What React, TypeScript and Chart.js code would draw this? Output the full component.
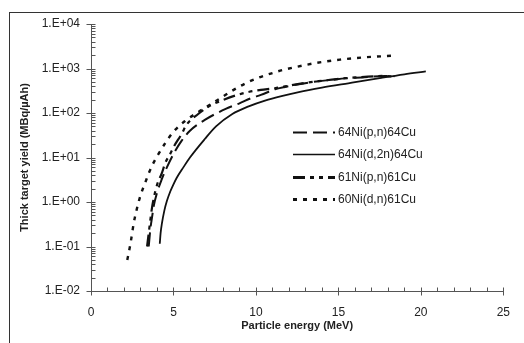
import { useEffect, useRef } from "react";
import { Chart, registerables } from "chart.js";

Chart.register(...registerables);

// ---- data ----
const seriesNames = ["64Ni(p,n)64Cu", "64Ni(d,2n)64Cu", "61Ni(p,n)61Cu", "60Ni(d,n)61Cu"];

const pn64Energy = [3.5, 3.6, 3.7, 3.8, 4.0, 4.3, 4.6, 5.0, 5.5, 6.0, 6.9, 8.2, 9.0, 9.7, 10.3, 11.15, 11.75, 12.8, 13.8, 14.6, 15.4, 16.4, 17.8, 18.4];
const pn64Yield = [0.1, 0.25, 0.45, 0.8, 1.6, 3.3, 6, 12, 24, 40, 70, 125, 165, 215, 255, 340, 385, 455, 520, 555, 600, 630, 675, 670];

const d2n64Energy = [4.17, 4.22, 4.3, 4.45, 4.6, 4.8, 5.0, 5.2, 5.6, 6.0, 6.9, 7.58, 8.57, 9.56, 10.55, 11.55, 12.6, 14.0, 15.6, 17.6, 19.0, 20.3];
const d2n64Yield = [0.115, 0.2, 0.33, 0.65, 1.05, 1.7, 2.5, 3.5, 6.0, 10, 26, 50, 95, 141, 190, 240, 295, 370, 465, 615, 740, 860];

const pn61Energy = [3.4, 3.5, 3.6, 3.7, 3.8, 4.0, 4.3, 4.5, 4.8, 5.0, 5.5, 5.8, 6.5, 7.2, 8.0, 8.8, 9.6, 10.3, 11.15, 11.75, 12.8, 13.8, 14.6, 15.4, 16.4, 17.8, 18.4];
const pn61Yield = [0.1, 0.2, 0.4, 0.75, 1.2, 2.4, 4.5, 7.5, 12, 17, 34, 55, 95, 145, 195, 250, 300, 330, 360, 395, 465, 520, 560, 605, 640, 680, 660];

const dn60Energy = [2.2, 2.4, 2.6, 2.8, 3.0, 3.3, 3.6, 4.0, 4.5, 5.0, 5.7, 6.5, 7.3, 8.0, 8.7, 9.4, 10.1, 11.0, 11.6, 13.0, 14.0, 15.1, 16.4, 17.3, 18.2, 18.5];
const dn60Yield = [0.05, 0.12, 0.35, 0.75, 1.4, 2.8, 5.4, 10.5, 21, 38, 66, 105, 160, 235, 340, 470, 610, 790, 920, 1200, 1400, 1580, 1760, 1850, 1930, 1950];

const xTickValues = [0, 5, 10, 15, 20, 25];
const yTickValues = [0.01, 0.1, 1, 10, 100, 1000, 10000];

const FONT = "'Liberation Sans', Arial, Helvetica, sans-serif";

function fmtExp(v: number): string {
  const e = Math.round(Math.log10(v));
  const s = e < 0 ? "-" : "+";
  const a = Math.abs(e);
  return "1.E" + s + (a < 10 ? "0" + a : String(a));
}

function pts(xs: number[], ys: number[]) {
  return xs.map((x, i) => ({ x, y: ys[i] }));
}

const axisPlugin = {
  id: "axisTicks",
  afterDraw(chart: any) {
    const { ctx, chartArea } = chart;
    const xs = chart.scales.x;
    const ys = chart.scales.y;
    ctx.save();
    ctx.strokeStyle = "#555";
    ctx.lineWidth = 1;
    const ax = Math.round(chartArea.left) + 0.5;
    const ay = Math.round(chartArea.bottom) + 0.5;
    ctx.beginPath();
    ctx.moveTo(ax, chartArea.top);
    ctx.lineTo(ax, ay);
    ctx.lineTo(Math.round(xs.getPixelForValue(25)) + 0.5, ay);
    for (let v = 0; v <= 25; v++) {
      const px = Math.round(xs.getPixelForValue(v)) + 0.5;
      if (v % 5 === 0) {
        ctx.moveTo(px, ay - 4);
        ctx.lineTo(px, ay + 4);
      } else {
        ctx.moveTo(px, ay - 4);
        ctx.lineTo(px, ay);
      }
    }
    for (let e = -2; e <= 4; e++) {
      const base = Math.pow(10, e);
      const py = Math.round(ys.getPixelForValue(base)) + 0.5;
      ctx.moveTo(ax - 5, py);
      ctx.lineTo(ax + 4, py);
      if (e < 4) {
        for (let m = 2; m <= 9; m++) {
          const my = Math.round(ys.getPixelForValue(base * m)) + 0.5;
          ctx.moveTo(ax, my);
          ctx.lineTo(ax + 4, my);
        }
      }
    }
    ctx.stroke();
    ctx.restore();
  },
};

const legendPlugin = {
  id: "inLegend",
  afterDraw(chart: any) {
    const { ctx, chartArea } = chart;
    const x0 = chartArea.left + 202;
    const y0 = chartArea.top + 108;
    const rowH = 22.4;
    ctx.save();
    chart.data.datasets.forEach((ds: any, i: number) => {
      const y = Math.round(y0 + i * rowH) + 0.5;
      ctx.beginPath();
      ctx.strokeStyle = ds.borderColor;
      ctx.lineWidth = ds.legendWidth;
      ctx.setLineDash(ds.borderDash || []);
      ctx.moveTo(x0, y);
      ctx.lineTo(x0 + 42, y);
      ctx.stroke();
      ctx.setLineDash([]);
      ctx.fillStyle = "#222";
      ctx.font = "12px " + FONT;
      ctx.textBaseline = "middle";
      ctx.textAlign = "left";
      ctx.fillText(ds.label, x0 + 45, y);
    });
    ctx.restore();
  },
};

export default function App() {
  const ref = useRef<HTMLCanvasElement | null>(null);

  useEffect(() => {
    if (!ref.current) return;
    const common = {
      pointRadius: 0,
      borderColor: "#111",
      fill: false,
      cubicInterpolationMode: "monotone" as const,
    };
    const chart = new Chart(ref.current, {
      type: "line",
      data: {
        datasets: [
          { ...common, label: seriesNames[0], data: pts(pn64Energy, pn64Yield), borderWidth: 2, borderDash: [14, 6], legendWidth: 2 } as any,
          { ...common, label: seriesNames[1], data: pts(d2n64Energy, d2n64Yield), borderWidth: 1.8, borderDash: [], legendWidth: 1.5 } as any,
          { ...common, label: seriesNames[2], data: pts(pn61Energy, pn61Yield), borderWidth: 2.2, borderDash: [12, 5, 4, 5, 4, 5], legendWidth: 3 } as any,
          { ...common, label: seriesNames[3], data: pts(dn60Energy, dn60Yield), borderWidth: 2.4, borderDash: [4, 6], legendWidth: 3 } as any,
        ],
      },
      options: {
        animation: false,
        responsive: false,
        maintainAspectRatio: false,
        layout: { padding: { left: 0, right: 14, top: 24, bottom: 0 } },
        plugins: {
          legend: { display: false },
          tooltip: { enabled: false },
        },
        scales: {
          x: {
            type: "linear",
            min: 0,
            max: 25,
            grid: { display: false, drawTicks: false },
            border: { display: false },
            afterBuildTicks: (s: any) => {
              s.ticks = xTickValues.map((v) => ({ value: v }));
            },
            afterFit: (s: any) => {
              s.height = 52;
            },
            ticks: {
              padding: 14,
              color: "#222",
              font: { family: FONT, size: 12 },
              maxRotation: 0,
            },
            title: {
              display: true,
              text: "Particle energy (MeV)",
              color: "#222",
              font: { family: FONT, size: 11, weight: "bold" },
              padding: { top: 0, bottom: 10 },
            },
          },
          y: {
            type: "logarithmic",
            min: 0.01,
            max: 10000,
            grid: { display: false, drawTicks: false },
            border: { display: false },
            afterBuildTicks: (s: any) => {
              s.ticks = yTickValues.map((v) => ({ value: v }));
            },
            afterFit: (s: any) => {
              s.width = 91;
            },
            ticks: {
              padding: 11,
              color: "#222",
              font: { family: FONT, size: 12 },
              callback: (v: any) => fmtExp(Number(v)),
              autoSkip: false,
            },
            title: {
              display: true,
              text: "Thick target yield (MBq/µAh)",
              color: "#222",
              font: { family: FONT, size: 11, weight: "bold" },
              padding: { top: 18, bottom: 0 },
            },
          },
        },
      } as any,
      plugins: [axisPlugin, legendPlugin],
    });
    return () => chart.destroy();
  }, []);

  return (
    <div style={{ position: "fixed", left: 0, top: 0, width: 524, height: 343, background: "#fff", overflow: "hidden" }}>
      <div
        style={{
          position: "absolute",
          left: 9,
          top: 12,
          width: 600,
          height: 400,
          borderLeft: "1px solid #333",
          borderTop: "1px solid #333",
        }}
      />
      <canvas ref={ref} width={524} height={343} style={{ position: "absolute", left: 0, top: 0, width: 524, height: 343 }} />
    </div>
  );
}
